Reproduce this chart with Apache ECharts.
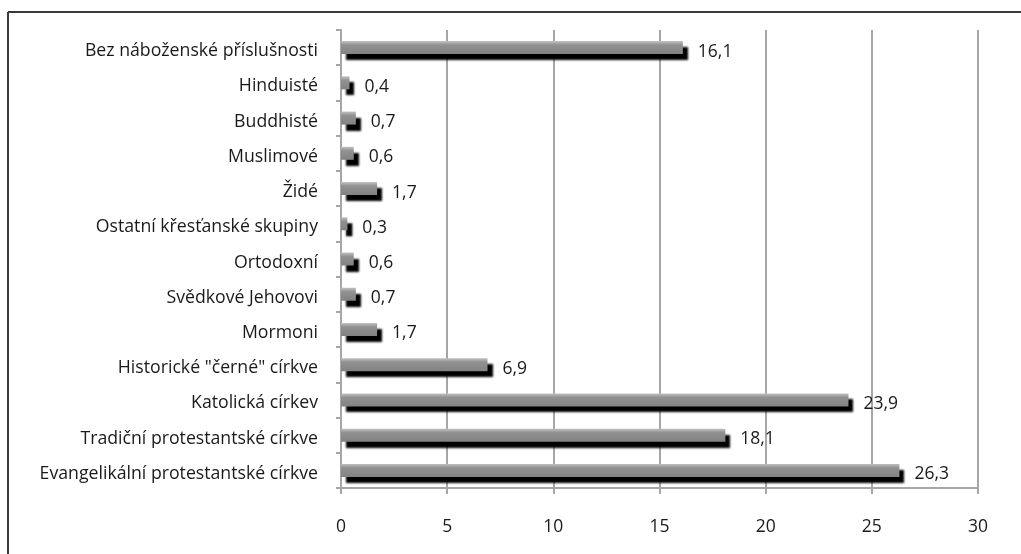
<!DOCTYPE html>
<html>
<head>
<meta charset="utf-8">
<script src="https://cdn.jsdelivr.net/npm/echarts@6/dist/echarts.min.js"></script>
<style>
html,body{margin:0;padding:0;background:#fff;}
#c{width:1021px;height:554px;}
</style>
</head>
<body>
<div id="c"></div>
<script>
var categories = [
  'Evangelikální protestantské církve',
  'Tradiční protestantské církve',
  'Katolická církev',
  'Historické "černé" církve',
  'Mormoni',
  'Svědkové Jehovovi',
  'Ortodoxní',
  'Ostatní křesťanské skupiny',
  'Židé',
  'Muslimové',
  'Buddhisté',
  'Hinduisté',
  'Bez náboženské příslušnosti'
];
var values = [26.3, 18.1, 23.9, 6.9, 1.7, 0.7, 0.6, 0.3, 1.7, 0.6, 0.7, 0.4, 16.1];
var xTicks = [0, 5, 10, 15, 20, 25, 30];

var FONT = 'Open Sans';
var chart = echarts.init(document.getElementById('c'), null, {renderer: 'canvas'});
chart.setOption({
  animation: false,
  backgroundColor: '#fff',
  grid: {left: 341, right: 43, top: 30, bottom: 66, containLabel: false},
  xAxis: {
    type: 'value',
    min: xTicks[0],
    max: xTicks[xTicks.length - 1],
    interval: 5,
    axisLine: {show: true, lineStyle: {color: '#a6a6a6', width: 2}},
    axisTick: {show: true, length: 6, lineStyle: {color: '#a6a6a6', width: 2}},
    splitLine: {show: true, lineStyle: {color: '#a6a6a6', width: 2}},
    axisLabel: {color: '#1a1a1a', fontFamily: FONT, fontSize: 17.5, margin: 30}
  },
  yAxis: {
    type: 'category',
    data: categories,
    axisLine: {show: true, lineStyle: {color: '#a6a6a6', width: 2}},
    axisTick: {show: true, length: 5, lineStyle: {color: '#a6a6a6', width: 2}},
    axisLabel: {
      color: '#1a1a1a', fontFamily: FONT, fontSize: 17.7, margin: 23,
      formatter: function (v) { return '{a|' + v + '}'; },
      rich: {a: {color: '#1a1a1a', fontFamily: FONT, fontSize: 17.7, padding: [7, 0, 0, 0]}}
    }
  },
  series: [{
    type: 'bar',
    data: values,
    barWidth: 13,
    itemStyle: {
      color: new echarts.graphic.LinearGradient(0, 0, 0, 1, [
        {offset: 0, color: '#c2c2c2'},
        {offset: 0.3, color: '#919191'},
        {offset: 1, color: '#828282'}
      ]),
      shadowColor: 'rgba(0,0,0,1)',
      shadowBlur: 2,
      shadowOffsetX: 5,
      shadowOffsetY: 6
    },
    label: {
      show: true,
      position: 'right',
      distance: 15,
      offset: [0, 4],
      color: '#1a1a1a',
      fontFamily: FONT,
      fontSize: 17.5,
      formatter: function (p) { return String(p.value).replace('.', ','); }
    }
  }],
  graphic: [
    {type: 'line', shape: {x1: 8, y1: 12, x2: 1021, y2: 12}, style: {stroke: '#3a3a3a', lineWidth: 2}},
    {type: 'line', shape: {x1: 8, y1: 12, x2: 8, y2: 554}, style: {stroke: '#3a3a3a', lineWidth: 2}}
  ]
});
</script>
</body>
</html>
